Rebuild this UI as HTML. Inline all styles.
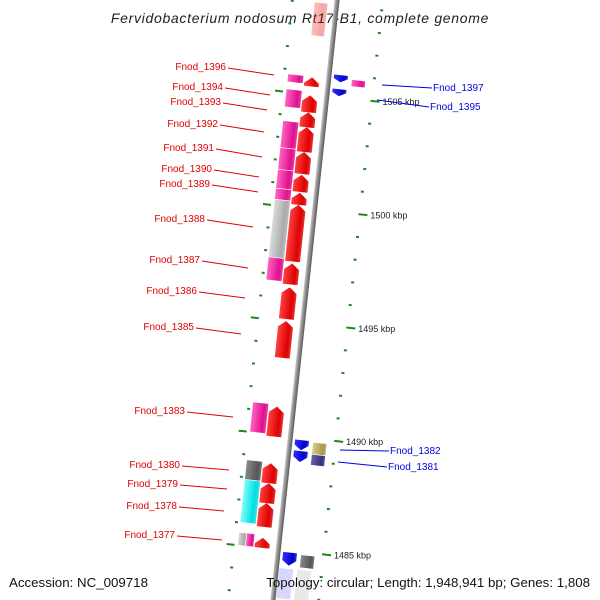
<!DOCTYPE html>
<html><head><meta charset="utf-8"><style>
html,body{margin:0;background:#fff;width:600px;height:600px;overflow:hidden}
svg{display:block;overflow:hidden;font-family:"Liberation Sans","DejaVu Sans",sans-serif}
</style></head><body>
<svg id="c" width="600" height="600" viewBox="0 0 600 600">
<defs>
<linearGradient id="gBack" x1="0" x2="1"><stop offset="0" stop-color="#c8c8c8"/><stop offset="0.5" stop-color="#8a8a8a"/><stop offset="1" stop-color="#5a5a5a"/></linearGradient>
<clipPath id="frame"><rect x="0" y="0" width="600" height="600"/></clipPath>
</defs>
<text x="300" y="23" text-anchor="middle" font-size="14" letter-spacing="0.7" font-style="italic" fill="#222">Fervidobacterium nodosum Rt17-B1, complete genome</text>
<g clip-path="url(#frame)"><g id="rot" transform="rotate(6.1 305 300)"></g></g>
<g id="labels"></g>
<text x="9" y="587" font-size="13.3" fill="#111">Accession: NC_009718</text>
<text x="590" y="587" font-size="13.3" text-anchor="end" fill="#111">Topology: circular; Length: 1,948,941 bp; Genes: 1,808</text>
</svg>
<script>
// data (kbp)
const leftBoxes = [[1505.79,1505.44,'pink'],[1505.13,1504.34,'pink'],[1503.73,1502.54,'pink'],[1502.54,1501.58,'pink'],[1501.58,1500.75,'pink'],[1500.75,1500.26,'pink'],[1500.26,1497.72,'gray'],[1497.72,1496.71,'pink'],[1491.32,1490.00,'pink'],[1488.77,1487.90,'dgray'],[1487.90,1486.01,'cyan'],[1485.57,1485.00,'lgray']];
const leftArrows = [[1505.75,1505.35],[1504.96,1504.21],[1504.21,1503.55],[1503.55,1502.46],[1502.46,1501.49],[1501.45,1500.70],[1500.66,1500.13],[1500.13,1497.63],[1497.54,1496.62],[1496.49,1495.09],[1495.00,1493.38],[1491.23,1489.91],[1488.73,1487.85],[1487.85,1486.97],[1486.97,1485.92],[1485.44,1485.00]];
const rightArrows = [[1505.98,1505.67],[1505.36,1505.06],[1489.88,1489.44],[1489.40,1488.92],[1484.92,1484.35]];
const rightBoxes = [[1505.84,1505.54,'pink'],[1489.84,1489.31,'khaki'],[1489.31,1488.83,'purple'],[1484.88,1484.31,'dgray']];
const majorTicks = [1505,1500,1495,1490,1485];
const leftLabels = [['Fnod_1396',226,67,274,75],['Fnod_1394',223,87,270,95],['Fnod_1393',221,102,267,110],['Fnod_1392',218,124,264,132],['Fnod_1391',214,148,262,157],['Fnod_1390',212,169,259,177],['Fnod_1389',210,184,258,192],['Fnod_1388',205,219,253,227],['Fnod_1387',200,260,248,268],['Fnod_1386',197,291,245,298],['Fnod_1385',194,327,241,334],['Fnod_1383',185,411,233,417],['Fnod_1380',180,465,229,470],['Fnod_1379',178,484,227,489],['Fnod_1378',177,506,224,511],['Fnod_1377',175,535,222,540]];
const rightLabels = [['Fnod_1397',433,88,382,85],['Fnod_1395',430,107,377,100],['Fnod_1382',390,451,340,450],['Fnod_1381',388,467,338,462]];

const NS='http://www.w3.org/2000/svg';
const BX=305, Y0=437, PX=22.8;
const y=kb=>Y0-(kb-1490)*PX;
const cols={pink:['#ff66c4','#e0108e'],gray:['#dcdcdc','#aaaaaa'],dgray:['#8a8a8a','#555'],cyan:['#80ffff','#00dede'],lgray:['#ddd','#aaa'],khaki:['#d8cc88','#a89a50'],purple:['#6a62a8','#3a3080'],red:['#ff4040','#dd0000'],blue:['#3030ff','#0000c8']};
const defs=document.querySelector('defs');
for(const k in cols){const g=document.createElementNS(NS,'linearGradient');g.id='g'+k;g.setAttribute('x1','0');g.setAttribute('x2','1');
g.innerHTML=`<stop offset="0" stop-color="${cols[k][0]}"/><stop offset="0.75" stop-color="${cols[k][1]}"/><stop offset="1" stop-color="${cols[k][1]}" stop-opacity="0.8"/>`;defs.appendChild(g);}
const rot=document.getElementById('rot');
function mk(tag,attrs,parent){const e=document.createElementNS(NS,tag);for(const a in attrs)e.setAttribute(a,attrs[a]);(parent||rot).appendChild(e);return e;}

// backbone
let bb=mk('rect',{x:BX-2.5,y:-10,width:5,height:620,fill:'url(#gBack)'});



// ticks
for(let kb=1483;kb<=1509;kb++){
  const major=kb%5===0, yy=y(kb);
  let t1=mk('rect',{x:BX-46-(major?6:0),y:yy-1,width:major?8:3,height:2,fill:'#1a8a1a'});
  
  
  let t2=mk('rect',{x:BX+44,y:yy-1,width:major?9:3,height:2,fill:'#1a8a1a'});
  
  
}
majorTicks.forEach(kb=>{
  let t=mk('text',{x:BX+56,y:y(kb)+3,'font-size':9,fill:'#222',transform:`rotate(-6.1 ${BX+56} ${y(kb)})`});
  t.textContent=kb+' kbp';
  
  
});

// top faded gene
let tf=mk('rect',{x:BX-22,y:y(1509.04),width:13,height:y(1507.59)-y(1509.04),fill:'url(#gred)',opacity:0.35});



function box(s,e,c,x0,w,name){
  const r=mk('rect',{x:x0,y:y(s),width:w,height:y(e)-y(s),fill:'url(#g'+c+')',stroke:'#fff','stroke-width':0.6});
  
  
}
leftBoxes.forEach(d=>{
  if(d[2]==='lgray'){box(d[0],d[1],'lgray',BX-41,8,'gene-box');box(d[0],d[1],'pink',BX-33,8,'gene-box');}
  else box(d[0],d[1],d[2],BX-41,16,'gene-box');
});
rightBoxes.forEach(d=>box(d[0],d[1],d[2],BX+23,14,'gene-box'));

function arrowUp(s,e,x0,w){
  const t=y(s),b=y(e),h=Math.min(6,(b-t)*0.7);
  const p=mk('polygon',{points:`${x0},${b} ${x0},${t+h} ${x0+w/2},${t} ${x0+w},${t+h} ${x0+w},${b}`,fill:'url(#gred)'});
  
  
}
function arrowDown(s,e,x0,w){
  const t=y(s),b=y(e),h=Math.min(5,(b-t)*0.5);
  const p=mk('polygon',{points:`${x0},${t} ${x0+w},${t} ${x0+w},${b-h} ${x0+w/2},${b} ${x0},${b-h}`,fill:'url(#gblue)'});
  
  
}
leftArrows.forEach(d=>arrowUp(d[0],d[1],BX-24,15));
rightArrows.forEach(d=>arrowDown(d[0],d[1],BX+5,14));

// bottom faded
let bf=mk('rect',{x:BX+3,y:y(1484.2),width:14,height:30,fill:'#c8c8ff',opacity:0.7});


let bf2=mk('rect',{x:BX+21,y:y(1484.2),width:14,height:30,fill:'#e0e0e0',opacity:0.7});



const lab=document.getElementById('labels');
leftLabels.forEach(d=>{
  const l=mk('line',{x1:d[1]+2,y1:d[2]+1,x2:d[3],y2:d[4],stroke:'#e00000','stroke-width':1},lab);
  
  
  const t=mk('text',{x:d[1],y:d[2]+3,'font-size':10,'text-anchor':'end',fill:'#e00000'},lab);
  t.textContent=d[0];
  
  
});
rightLabels.forEach(d=>{
  const l=mk('line',{x1:d[3],y1:d[4],x2:d[1]-1,y2:d[2],stroke:'#0000e0','stroke-width':1},lab);
  
  
  const t=mk('text',{x:d[1],y:d[2]+3,'font-size':10,fill:'#0000e0'},lab);
  t.textContent=d[0];
  
  
});
</script>
</body></html>
